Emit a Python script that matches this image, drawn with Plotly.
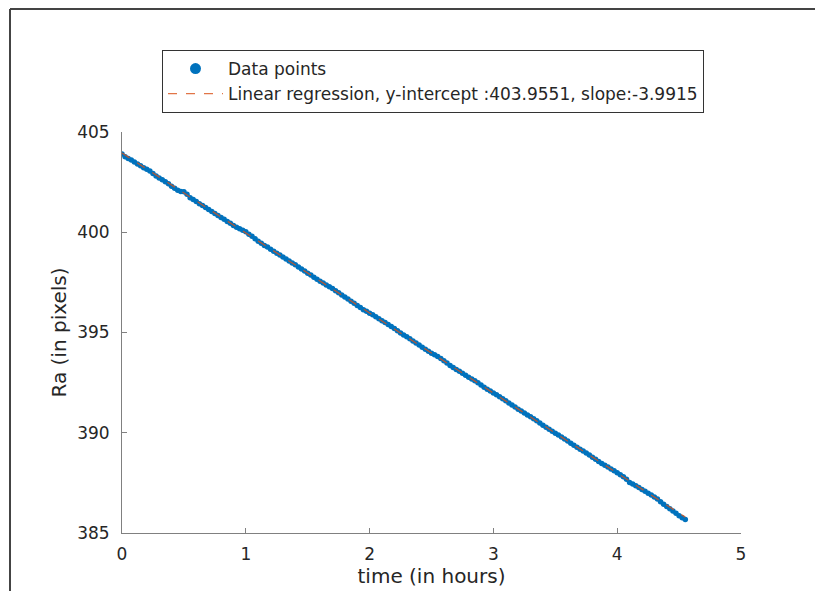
import plotly.graph_objects as go

# samples read on the hour grid
time_a = [0.00, 0.05, 0.10, 0.15, 0.20, 0.25, 0.30, 0.35, 0.40, 0.45,
          0.50, 0.55, 0.60, 0.65, 0.70, 0.75, 0.80, 0.85, 0.90, 0.95,
          1.00, 1.05, 1.10, 1.15, 1.20, 1.25, 1.30, 1.35, 1.40, 1.45,
          1.50, 1.55, 1.60, 1.65, 1.70, 1.75, 1.80, 1.85, 1.90, 1.95,
          2.00, 2.05, 2.10, 2.15, 2.20, 2.25, 2.30, 2.35, 2.40, 2.45,
          2.50, 2.55, 2.60, 2.65, 2.70, 2.75, 2.80, 2.85, 2.90, 2.95,
          3.00, 3.05, 3.10, 3.15, 3.20, 3.25, 3.30, 3.35, 3.40, 3.45,
          3.50, 3.55, 3.60, 3.65, 3.70, 3.75, 3.80, 3.85, 3.90, 3.95,
          4.00, 4.05, 4.10, 4.15, 4.20, 4.25, 4.30, 4.35, 4.40, 4.45,
          4.50, 4.55]

ra_a = [403.90, 403.68, 403.50, 403.32, 403.14, 402.93, 402.71, 402.52, 402.30, 402.10,
        402.02, 401.72, 401.53, 401.33, 401.14, 400.93, 400.74, 400.54, 400.34, 400.18,
        400.02, 399.80, 399.55, 399.34, 399.15, 398.95, 398.76, 398.57, 398.38, 398.17,
        397.96, 397.76, 397.56, 397.37, 397.19, 396.98, 396.77, 396.56, 396.35, 396.14,
        395.96, 395.78, 395.59, 395.40, 395.20, 394.98, 394.79, 394.58, 394.38, 394.16,
        393.97, 393.80, 393.59, 393.36, 393.16, 392.97, 392.77, 392.59, 392.38, 392.17,
        391.98, 391.80, 391.59, 391.39, 391.17, 390.98, 390.80, 390.60, 390.38, 390.17,
        389.98, 389.79, 389.59, 389.38, 389.18, 388.99, 388.78, 388.57, 388.38, 388.19,
        388.00, 387.80, 387.52, 387.36, 387.17, 386.98, 386.80, 386.56, 386.32, 386.10,
        385.86, 385.67]

# samples read between those
time_b = [0.025, 0.075, 0.125, 0.175, 0.225, 0.275, 0.325, 0.375, 0.425, 0.475,
          0.525, 0.575, 0.625, 0.675, 0.725, 0.775, 0.825, 0.875, 0.925, 0.975,
          1.025, 1.075, 1.125, 1.175, 1.225, 1.275, 1.325, 1.375, 1.425, 1.475,
          1.525, 1.575, 1.625, 1.675, 1.725, 1.775, 1.825, 1.875, 1.925, 1.975,
          2.025, 2.075, 2.125, 2.175, 2.225, 2.275, 2.325, 2.375, 2.425, 2.475,
          2.525, 2.575, 2.625, 2.675, 2.725, 2.775, 2.825, 2.875, 2.925, 2.975,
          3.025, 3.075, 3.125, 3.175, 3.225, 3.275, 3.325, 3.375, 3.425, 3.475,
          3.525, 3.575, 3.625, 3.675, 3.725, 3.775, 3.825, 3.875, 3.925, 3.975,
          4.025, 4.075, 4.125, 4.175, 4.225, 4.275, 4.325, 4.375, 4.425, 4.475,
          4.525]

ra_b = [403.76, 403.60, 403.41, 403.22, 403.05, 402.81, 402.62, 402.42, 402.19, 402.03,
        401.90, 401.63, 401.42, 401.24, 401.03, 400.84, 400.65, 400.45, 400.25, 400.10,
        399.90, 399.67, 399.45, 399.26, 399.05, 398.86, 398.66, 398.47, 398.27, 398.07,
        397.87, 397.66, 397.47, 397.28, 397.08, 396.87, 396.67, 396.46, 396.25, 396.06,
        395.88, 395.69, 395.50, 395.30, 395.09, 394.88, 394.69, 394.48, 394.27, 394.07,
        393.89, 393.70, 393.48, 393.26, 393.07, 392.87, 392.68, 392.49, 392.27, 392.08,
        391.89, 391.70, 391.49, 391.28, 391.08, 390.89, 390.70, 390.49, 390.27, 390.08,
        389.89, 389.69, 389.48, 389.28, 389.09, 388.89, 388.68, 388.47, 388.29, 388.10,
        387.90, 387.68, 387.44, 387.27, 387.08, 386.89, 386.69, 386.44, 386.21, 385.98,
        385.76]

intercept = 403.9551
slope = -3.9915

x_ticks = [0, 1, 2, 3, 4, 5]
y_ticks = [385, 390, 395, 400, 405]

blue = "#0072BD"
orange = "#D95319"
font = "DejaVu Sans"

all_t = time_a + time_b
all_r = ra_a + ra_b
fit_x = [min(all_t), max(all_t)]
fit_y = [intercept + slope * v for v in fit_x]

fig = go.Figure()
fig.add_trace(go.Scatter(x=all_t, y=all_r, mode="markers",
                         marker=dict(color=blue, size=5.5), showlegend=False))
fig.add_trace(go.Scatter(x=[None], y=[None], mode="markers", name="Data points",
                         marker=dict(color=blue, size=11)))
fig.add_trace(go.Scatter(x=fit_x, y=fit_y, mode="lines",
                         name="Linear regression, y-intercept :403.9551, slope:-3.9915",
                         line=dict(color=orange, width=1.3, dash="dash"), opacity=0.8))

W, H = 815, 591
L, R, T, B = 122, 741, 132, 533
pw, ph = R - L, B - T

def px(xp):
    return (xp - L) / pw

def py(yp):
    return (B - yp) / ph

fig.update_layout(
    width=W, height=H,
    margin=dict(l=L, r=W - R, t=T, b=H - B, pad=0, autoexpand=False),
    paper_bgcolor="white", plot_bgcolor="white",
    font=dict(family=font, color="#262626"),
    showlegend=True,
    legend=dict(x=px(162), y=py(50), xanchor="left", yanchor="top",
                bordercolor="#333333", borderwidth=1, bgcolor="white",
                font=dict(size=17, family=font, color="#262626"),
                tracegroupgap=0, itemwidth=55),
    xaxis=dict(range=[0, 5], tickvals=x_ticks, ticks="inside", ticklen=5,
               tickcolor="#808080", showline=True, linecolor="#808080", linewidth=1,
               showgrid=False, zeroline=False, tickfont=dict(size=17, color="#262626"),
               ticklabelstandoff=6, automargin=False,
               title=dict(text="time (in hours)", font=dict(size=20, color="#262626"), standoff=5)),
    yaxis=dict(range=[385, 405], tickvals=y_ticks, ticks="inside", ticklen=5,
               tickcolor="#808080", showline=True, linecolor="#808080", linewidth=1,
               showgrid=False, zeroline=False, tickfont=dict(size=17, color="#262626"),
               ticklabelstandoff=8, automargin=False,
               title=dict(text="Ra (in pixels)", font=dict(size=20, color="#262626"), standoff=5)),
    shapes=[
        dict(type="line", xref="paper", yref="paper", x0=px(10), x1=px(10), y0=py(591), y1=py(9),
             line=dict(color="#444444", width=2)),
        dict(type="line", xref="paper", yref="paper", x0=px(10), x1=px(815), y0=py(9), y1=py(9),
             line=dict(color="#444444", width=2)),
    ],
)

fig.write_html("out.html")
